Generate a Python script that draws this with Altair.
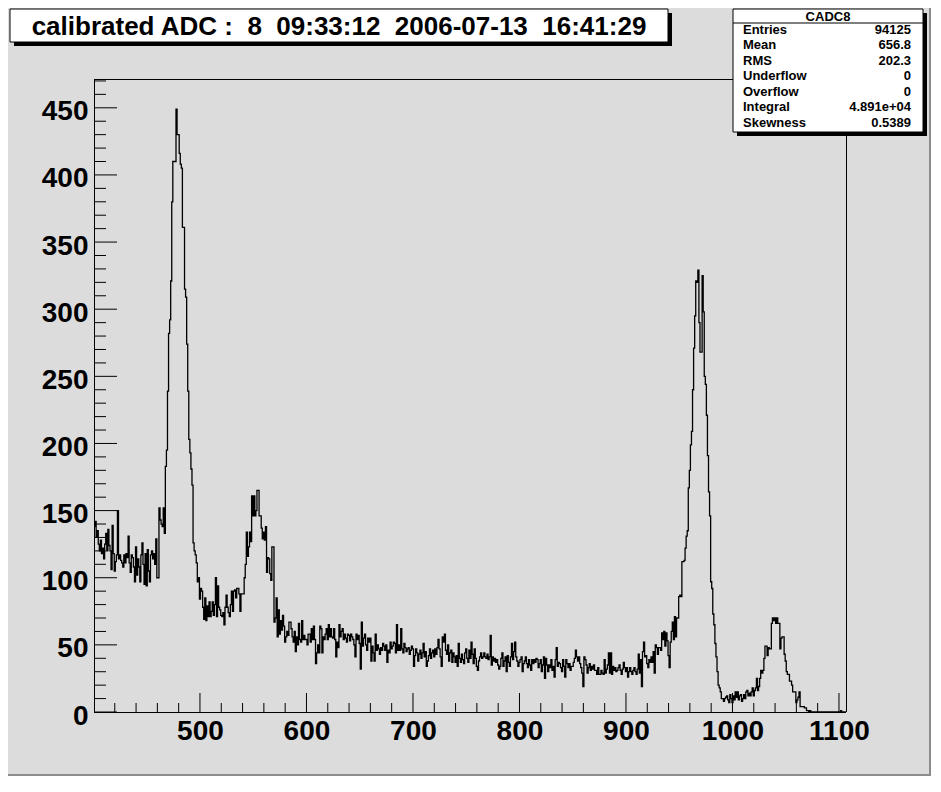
import altair as alt
import pandas as pd

# ---------------- data (bin centre of first value, counts per 1-unit bin) ----------------
seg_a_start = 401
seg_a = [138, 142, 130, 135, 125, 120, 128, 118, 122, 114,
         125, 133, 120, 136, 124, 120, 106, 139, 118, 105,
         112, 117, 150, 114, 117, 113, 111, 108, 117, 111,
         118, 115, 131, 111, 104, 117, 115, 108, 97, 123,
         102, 114, 108, 97, 117, 126, 110, 95, 118, 94,
         121, 105, 97, 117, 120, 114, 118, 110, 129, 100,
         100, 152, 143, 140, 138, 152, 133]
seg_b_start = 468
seg_b = [183, 195, 239, 282, 292, 321, 380, 410, 410, 410,
         449, 430, 430, 416, 408, 405, 361, 361, 315, 309,
         274, 239, 203, 193, 181, 169, 126, 120]
seg_c_start = 496
seg_c = [117, 111, 97, 100, 84, 92, 90, 78, 69, 85,
         68, 79, 71, 82, 71, 75, 82, 72, 80, 100,
         71, 94, 78, 76, 72, 71, 74, 65, 78, 87,
         78, 74, 71, 80, 90, 75, 90, 91, 85, 92,
         92, 88, 75, 88]
seg_d_start = 540
seg_d = [88, 88, 100, 110, 134, 116, 123, 134, 127, 161,
         146, 161, 146, 150, 165, 165, 146, 146, 137, 129,
         134, 128, 138, 104, 115, 114, 103, 98, 123, 123]
seg_e_start = 570
seg_e = [67, 70, 85, 56, 76, 58, 68, 61, 72,
         64, 52, 56, 60, 57, 67, 67, 62, 56, 52, 60, 45, 56, 50, 66, 54,
         52, 68, 54, 57, 54, 54, 50, 58, 58, 52, 62, 54, 64, 54, 36, 44,
         50, 44, 64, 62, 44, 56, 54, 58, 62, 54, 65, 56, 62, 56, 55, 62, 54,
         41, 52, 48, 65, 56, 60, 62, 54, 58, 55, 52, 58, 57, 53, 58,
         56, 54, 50, 41, 58, 54, 57, 51, 32, 67, 49, 55, 58, 50, 46,
         55, 52, 55, 38, 49, 44, 38, 58, 46, 50, 47, 43, 48, 46, 51, 49,
         46, 50, 37, 46, 44, 52, 47, 49, 52, 51, 44, 65, 46, 50, 46, 62,
         47, 44, 51, 48, 45, 47, 48, 43, 46, 49, 47, 34, 42, 47, 44,
         38, 43, 46, 40, 44, 51, 41, 45, 34, 38, 42, 47, 40, 44, 46, 41,
         47, 43, 48, 54, 47, 41, 34, 56, 52, 58, 46, 43, 50, 38, 44, 46,
         37, 44, 41, 37, 42, 34, 51, 40, 37, 43, 39, 36, 44, 47, 40, 37,
         46, 40, 52, 43, 36, 47, 40, 34, 31, 38, 41, 44, 40, 41, 44, 41,
         40, 43, 39, 41, 57, 35, 41, 38, 40, 37, 39, 35, 32]
seg_f_start = 782
seg_f = [34, 40, 44, 34, 38, 41, 30, 42, 37, 34, 41, 51,
         39, 45, 52, 41, 38, 34, 37, 39, 41, 30, 36, 38, 41, 36, 33,
         39, 35, 31, 39, 36, 39, 37, 40, 39, 33, 36, 39, 30, 35, 41, 25,
         40, 35, 30, 35, 33, 39, 31, 34, 26, 39, 48, 34, 37, 36, 33, 30,
         39, 34, 26, 39, 36, 33, 36, 31, 34, 34, 37, 40, 46, 41, 38,
         41, 36, 33, 29, 19, 41, 39, 35, 29, 33, 36, 31, 34, 32, 35, 31,
         31, 28, 33, 28, 28, 31, 29, 28, 39, 29, 32, 35, 44, 29, 44, 28,
         34, 31, 33, 30, 31, 33, 35, 31, 28, 32, 37, 33, 30, 33, 26,
         30, 33, 30, 28, 31, 33, 30, 28, 32, 43, 29, 39, 19, 45, 52, 41,
         42, 36, 33, 39, 37, 41, 37, 45, 29, 50, 48, 43, 48]
seg_g_start = 932
seg_g = [48, 46, 59, 54, 60, 49, 59, 53, 42, 33,
         52, 60, 67, 54, 71, 56, 70, 70, 86, 87,
         86, 112, 112, 113, 122, 131, 135, 167, 180, 199,
         209, 240, 271, 295, 321, 320, 329, 290, 268, 268,
         325, 298, 250, 244, 221, 191, 164, 146, 97, 92,
         73, 65, 51, 41, 30, 20, 18, 15]
seg_h_start = 990
seg_h = [10, 10, 8, 10, 11, 12, 9, 7, 13, 10,
         7, 12, 9, 15, 11, 15, 9, 12, 13, 8,
         10, 13, 10, 15, 16, 12, 14, 12, 15, 18,
         12, 16, 18, 25, 16, 19, 25]
seg_i_start = 1027
seg_i = [31, 29, 31, 40, 49, 49, 42, 48, 47, 47,
         66, 70, 68, 70, 66, 70, 66, 66, 47, 55,
         56, 56, 43, 38, 30, 28, 28, 23, 23, 20,
         15, 15, 15, 7, 9, 11, 15, 4, 4, 4,
         4, 3, 3, 1, 1, 0, 1]
seg_j_start = 1074
seg_j = [0, 0, 0, 0, 0, 0, 0, 0, 0, 0,
         0, 0, 0, 0, 0, 0, 0, 0, 0, 0,
         0, 0, 0, 0, 0, 0, 0, 0, 1, 0,
         0, 0, 0]

x_major = [500, 600, 700, 800, 900, 1000, 1100]
x_minor = [420, 440, 460, 480, 520, 540, 560, 580, 620, 640, 660, 680,
           720, 740, 760, 780, 820, 840, 860, 880, 920, 940, 960, 980,
           1020, 1040, 1060, 1080]
y_major = [0, 50, 100, 150, 200, 250, 300, 350, 400, 450]
y_minor = [10, 20, 30, 40, 60, 70, 80, 90, 110, 120, 130, 140, 160, 170, 180, 190,
           210, 220, 230, 240, 260, 270, 280, 290, 310, 320, 330, 340,
           360, 370, 380, 390, 410, 420, 430, 440, 460, 470]

title_text = "calibrated ADC :\u00a0 8\u00a0 09:33:12\u00a0 2006-07-13\u00a0 16:41:29"
stats_name = "CADC8"
stats_labels = ["Entries", "Mean", "RMS", "Underflow", "Overflow", "Integral", "Skewness"]
stats_values = ["94125", "656.8", "202.3", "0", "0", "4.891e+04", "0.5389"]

X_DOMAIN = [400.5, 1106.6]
Y_DOMAIN = [0, 471.45]

# ---------------- build table ----------------
segments = [(seg_a_start, seg_a), (seg_b_start, seg_b), (seg_c_start, seg_c),
            (seg_d_start, seg_d), (seg_e_start, seg_e), (seg_f_start, seg_f),
            (seg_g_start, seg_g), (seg_h_start, seg_h), (seg_i_start, seg_i),
            (seg_j_start, seg_j)]
rows = []
for start, vals in segments:
    for i, v in enumerate(vals):
        rows.append({"x": start - 0.5 + i, "y": v})
rows.append({"x": rows[-1]["x"] + 1, "y": rows[-1]["y"]})
hist = pd.DataFrame(rows)

W, H = 752, 633
FONT = "Liberation Sans"
one = pd.DataFrame({"a": [0]})

xs = alt.Scale(domain=X_DOMAIN, nice=False, zero=False)
ys = alt.Scale(domain=Y_DOMAIN, nice=False, zero=False)

axis_common = dict(labelFont=FONT, labelFontWeight="bold", labelFontSize=28,
                   labelColor="black", ticks=False, tickSize=0, domain=False,
                   grid=False, title=None, labelFlush=False, labelOverlap=False,
                   format="d")
x_axis = alt.Axis(values=x_major, labelPadding=5, **axis_common)
y_axis = alt.Axis(values=y_major, labelPadding=6, labelOffset=4, **axis_common)

line = alt.Chart(hist).mark_line(interpolate="step-after", color="black",
                                 strokeWidth=1.3).encode(
    x=alt.X("x:Q", scale=xs, axis=x_axis),
    y=alt.Y("y:Q", scale=ys, axis=y_axis),
)

def xticks(vals, length):
    return alt.Chart(pd.DataFrame({"v": vals})).mark_rule(color="black", strokeWidth=1).encode(
        x=alt.X("v:Q", scale=xs, axis=x_axis),
        y=alt.value(H), y2=alt.value(H - length))

def yticks(vals, length):
    return alt.Chart(pd.DataFrame({"v": vals})).mark_rule(color="black", strokeWidth=1).encode(
        y=alt.Y("v:Q", scale=ys, axis=y_axis),
        x=alt.value(0), x2=alt.value(length))

def rule(x, x2, y, y2, color="black", sw=1):
    return alt.Chart(one).mark_rule(color=color, strokeWidth=sw).encode(
        x=alt.value(x), x2=alt.value(x2), y=alt.value(y), y2=alt.value(y2))

def box(x, x2, y, y2, fill, stroke=None):
    kw = dict(fill=fill)
    if stroke:
        kw.update(stroke=stroke, strokeWidth=1)
    return alt.Chart(one).mark_rect(**kw).encode(
        x=alt.value(x), x2=alt.value(x2), y=alt.value(y), y2=alt.value(y2))

def text(t, x, y, size, align="left"):
    return alt.Chart(pd.DataFrame({"t": [t]})).mark_text(
        font=FONT, fontWeight="bold", fontSize=size, color="black",
        align=align, baseline="alphabetic").encode(
        text="t:N", x=alt.value(x), y=alt.value(y))

frame = [
    rule(0, W, 0.5, 0.5),
    rule(0, W, H + 0.5, H + 0.5),
    rule(0.5, 0.5, 0, H),
    rule(W + 0.5, W + 0.5, 0, H),
]

# canvas border (dark at right and bottom)
border = [
    box(835, 837, -71, 697, "#8c8c8c"),
    box(-86, 837, 695, 697, "#8c8c8c"),
]

title_layers = [
    box(-80, 578, -66, -33, "black"),
    box(-84, 574, -70, -37, "white", "black"),
    text(title_text, 245, -44, 26, align="center"),
]

stats_layers = [
    box(643, 833, -66, 57, "black"),
    box(639, 829, -70, 53, "white", "black"),
    text(stats_name, 734, -58.5, 13, align="center"),
    rule(639, 829, -56, -56),
]
for k, (lab, val) in enumerate(zip(stats_labels, stats_values)):
    yb = -45.5 + 15.5 * k
    stats_layers.append(text(lab, 649, yb, 13, align="left"))
    stats_layers.append(text(val, 817, yb, 13, align="right"))

chart = alt.layer(
    *border,
    line,
    xticks(x_major, 19), xticks(x_minor, 9),
    yticks(y_major, 23), yticks(y_minor, 12),
    *frame,
    *title_layers,
    *stats_layers,
).properties(
    width=W, height=H,
    padding={"left": 86, "top": 71, "right": 85, "bottom": 64},
    autosize=alt.AutoSizeParams(type="none"),
    background="#dcdcdc",
).configure_view(strokeWidth=0)

chart.save("out.html", embed_options={"renderer": "svg", "actions": False})
